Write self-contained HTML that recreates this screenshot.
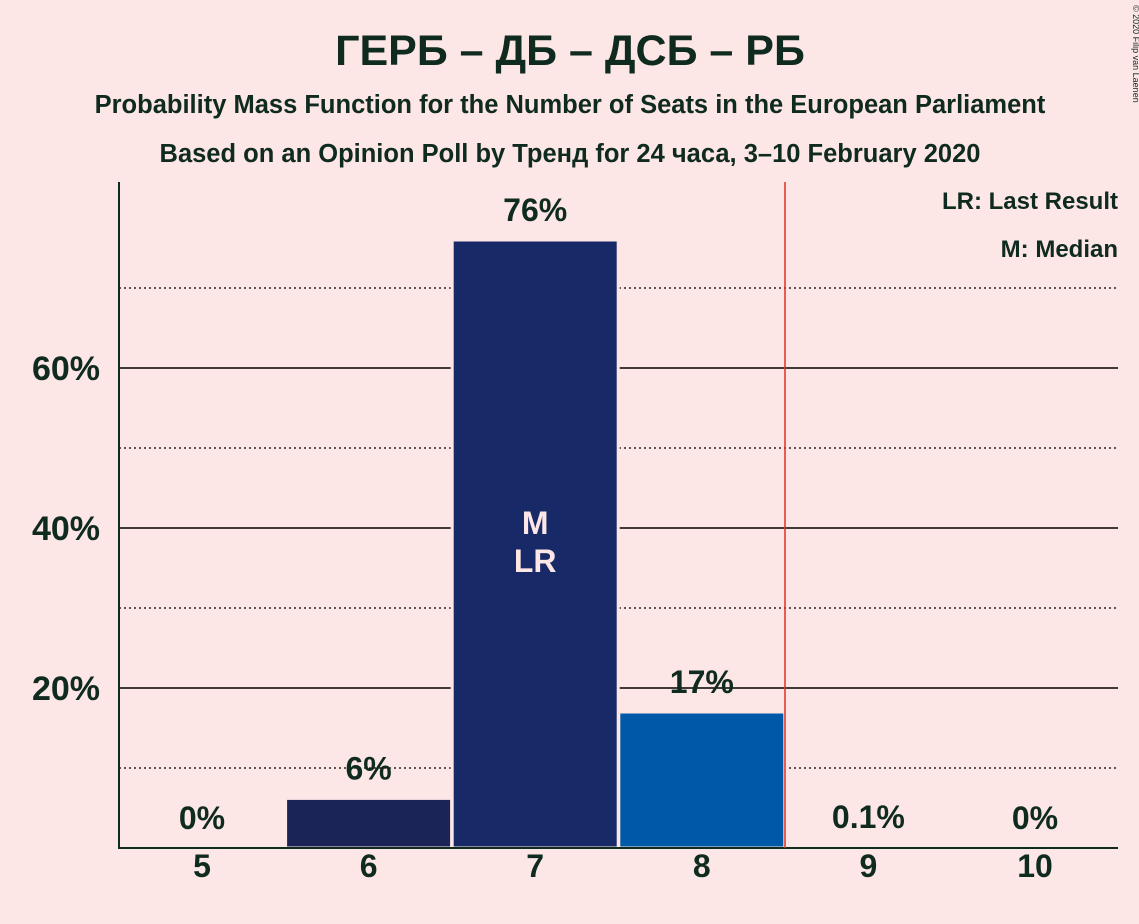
<!DOCTYPE html>
<html><head><meta charset="utf-8"><style>
body{margin:0;background:#fde6e6;}
svg{display:block;font-family:"Liberation Sans",sans-serif;font-weight:bold;fill:#0f2a1e}
</style></head><body>
<svg width="1139" height="924">
<rect width="1139" height="924" fill="#fde6e6"/>
<text x="570" y="65" font-size="43" text-anchor="middle">ГЕРБ – ДБ – ДСБ – РБ</text>
<text x="570" y="113" font-size="25.5" text-anchor="middle">Probability Mass Function for the Number of Seats in the European Parliament</text>
<text x="570" y="162" font-size="25.5" text-anchor="middle">Based on an Opinion Poll by Тренд for 24 часа, 3–10 February 2020</text>
<text x="1133" y="5" font-size="9" font-weight="normal" transform="rotate(90 1133 5)">© 2020 Filip van Laenen</text>
<g id="grid"></g>
<g id="bars"></g>
<line x1="119" y1="182" x2="119" y2="849" stroke="#0f2a1e" stroke-width="2"/>
<line x1="118" y1="848" x2="1118" y2="848" stroke="#0f2a1e" stroke-width="2"/>
<line x1="785" y1="182" x2="785" y2="848" stroke="#e0301e" stroke-width="1.5"/>
<text x="1118" y="209" font-size="24" text-anchor="end">LR: Last Result</text>
<text x="1118" y="257" font-size="24" text-anchor="end">M: Median</text>
</svg>
<script>
const categories=[5,6,7,8,9,10];
const values=[0,6.2,76,17,0.1,0];
const valueLabels=["0%","6%","76%","17%","0.1%","0%"];
const barColors=["#1a2456","#1a2456","#172966","#0059a8","#1a2456","#1a2456"];
const gridTicks=[10,20,30,40,50,60,70];
const tickLabels=["20%","40%","60%"];
const tickValues=[20,40,60];
const medianCat=7, lastResultCat=7;
const NS="http://www.w3.org/2000/svg";
const y=v=>848-v*8;
const x=c=>202+(c-5)*166.6;
function mk(t,a,p){const e=document.createElementNS(NS,t);for(const k in a)e.setAttribute(k,a[k]);p.appendChild(e);return e;}
const grid=document.getElementById('grid'),bars=document.getElementById('bars');
gridTicks.forEach(t=>{
 const l=mk('line',{x1:119,x2:1118,y1:y(t),y2:y(t),stroke:'#000','stroke-width':t%20===0?1.6:1.2,'stroke-dasharray':t%20===0?'':'2,3'},grid);
 
 
});
tickValues.forEach((t,i)=>{
 const e=mk('text',{x:100,y:y(t)+12,'font-size':34,'text-anchor':'end'},grid);e.textContent=tickLabels[i];
 
 
});
categories.forEach((c,i)=>{
 const v=values[i];
 if(v>0.5){
  const r=mk('rect',{x:x(c)-83,y:y(v),width:166,height:848-y(v),fill:barColors[i],stroke:'#fde6e6','stroke-width':3},bars);
  
  
 }
 const lt=mk('text',{x:x(c),y:Math.min(y(v)-31,817)+12,'font-size':32,'text-anchor':'middle'},bars);lt.textContent=valueLabels[i];
 
 
 const xt=mk('text',{x:x(c),y:877,'font-size':32,'text-anchor':'middle'},bars);xt.textContent=c;
 
 
 if(c===medianCat){
  const mid=(y(v)+848)/2;
  const m=mk('text',{x:x(c),y:mid-10,'font-size':32,'text-anchor':'middle',fill:'#fde6e6'},bars);m.textContent='M';
  
  
  const lr=mk('text',{x:x(c),y:mid+28,'font-size':32,'text-anchor':'middle',fill:'#fde6e6'},bars);lr.textContent='LR';
  
  
 }
});
</script>
</body></html>
